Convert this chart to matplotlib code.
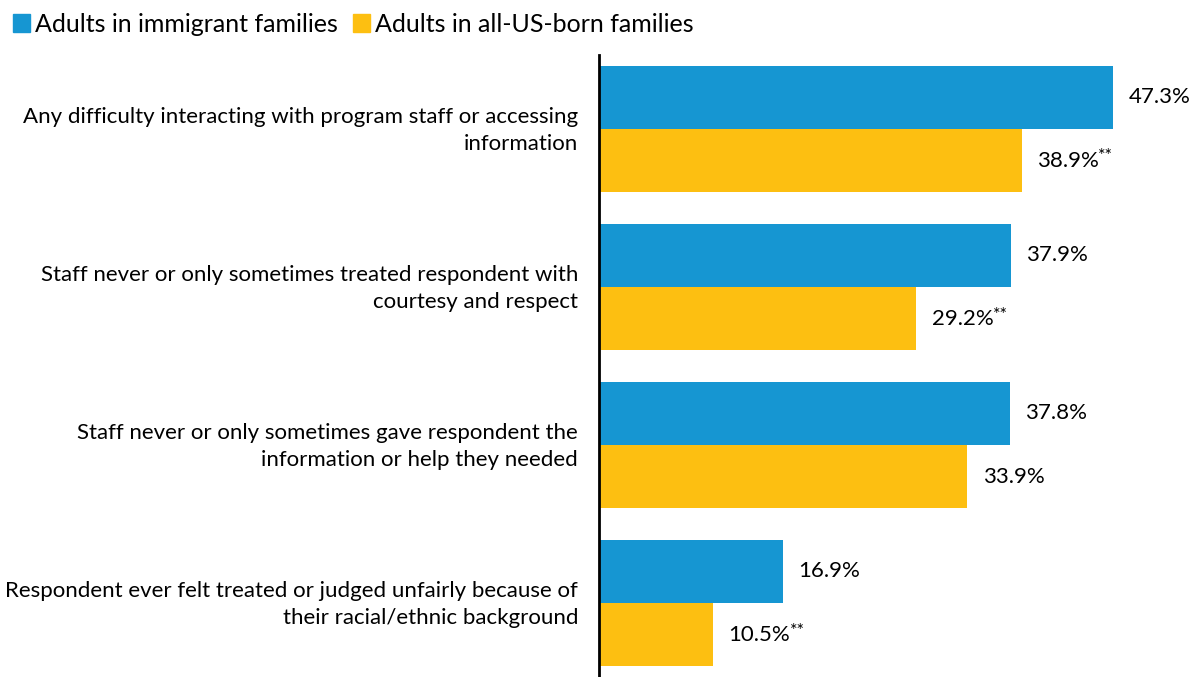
import matplotlib.pyplot as plt
from matplotlib.patches import Patch
from matplotlib.transforms import ScaledTranslation

plt.rcParams['font.family'] = ['Lato', 'DejaVu Sans']

categories = ['Any difficulty interacting with program staff or accessing\ninformation',
              'Staff never or only sometimes treated respondent with\ncourtesy and respect',
              'Staff never or only sometimes gave respondent the\ninformation or help they needed',
              'Respondent ever felt treated or judged unfairly because of\ntheir racial/ethnic background']
immigrant = [47.3, 37.9, 37.8, 16.9]
usborn    = [38.9, 29.2, 33.9, 10.5]
usborn_sig = ['**', '**', '', '**']
series_names = ['Adults in immigrant families', 'Adults in all-US-born families']

blue   = '#1696d2'
yellow = '#fdbf11'

fig = plt.figure(figsize=(11.89, 6.77), dpi=100)
ax = fig.add_axes([599/1189, 0, 1-599/1189, 1-55/677])

h = 0.4
pos = list(range(len(categories)))
ax.barh([p - h/2 for p in pos], immigrant, height=h, color=blue)
ax.barh([p + h/2 for p in pos], usborn, height=h, color=yellow)

ax.set_xlim(0, 590/10.87)
ax.set_ylim(3.468, -0.468)

for p, v in zip(pos, immigrant):
    ax.annotate(f'{v}%', xy=(v, p - h/2), xytext=(11, 0), textcoords='offset points',
                va='center', ha='left', fontsize=16, color='#000000')
for p, v, s in zip(pos, usborn, usborn_sig):
    t = ax.annotate(f'{v}%', xy=(v, p + h/2), xytext=(11, 0), textcoords='offset points',
                    va='center', ha='left', fontsize=16, color='#000000')
    if s:
        ax.annotate(s, xy=(1, 1), xycoords=t, ha='left', va='top', fontsize=13,
                    xytext=(-0.5, 1.5), textcoords='offset points')

ax.set_yticks(pos)
ax.set_yticklabels(categories, fontsize=16, linespacing=1.43)
ax.tick_params(axis='y', length=0, pad=15)
# nudge labels up a little
shift = ScaledTranslation(0, 3/72, fig.dpi_scale_trans)
for lbl in ax.get_yticklabels():
    lbl.set_transform(lbl.get_transform() + shift)
ax.set_xticks([])
for side in ['top', 'right', 'bottom']:
    ax.spines[side].set_visible(False)
ax.spines['left'].set_linewidth(2)
ax.spines['left'].set_color('#000000')

handles = [Patch(color=blue), Patch(color=yellow)]
fig.legend(handles, series_names, loc='upper left', bbox_to_anchor=(0.0, 1.0),
           ncol=2, frameon=False, fontsize=18, handlelength=0.7, handleheight=0.7,
           handletextpad=0.2, columnspacing=0.6, borderaxespad=0.2, borderpad=0.3)

fig.savefig('out.png', dpi=100)
